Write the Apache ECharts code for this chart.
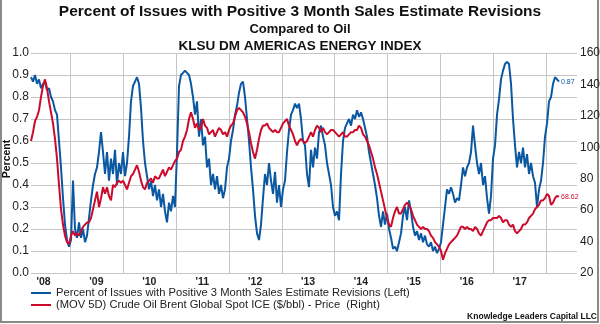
<!DOCTYPE html>
<html>
<head>
<meta charset="utf-8">
<script src="https://cdn.jsdelivr.net/npm/echarts@6/dist/echarts.min.js"></script>
<style>
  html, body { margin: 0; padding: 0; background: #fff; }
  #chart { width: 600px; height: 324px; }
</style>
</head>
<body>
<div id="chart"></div>
<script>
// Sampling of both series: one reading every stepDays, starting at seriesStart
const seriesStart = '2008-04-05';
const stepDays = 13.81;

// Visible date range of the chart
const axisStart = '2008-04-05';
const axisEnd = '2018-08-01';

// Year boundaries get a gridline; year labels sit mid-year
const gridYears = [2009, 2010, 2011, 2012, 2013, 2014, 2015, 2016, 2017, 2018];
const labelYears = [2008, 2009, 2010, 2011, 2012, 2013, 2014, 2015, 2016, 2017];

// Percent of issues with positive 3 month sales estimate revisions (left axis)
const percentPositive = [
  0.89,0.87,0.90,0.86,0.88,0.84,0.86,0.87,0.83,0.84,
  0.80,0.78,0.74,0.72,0.60,0.48,0.34,0.22,0.15,0.12,
  0.15,0.42,0.20,0.16,0.23,0.16,0.20,0.14,0.17,0.25,
  0.33,0.40,0.45,0.48,0.55,0.64,0.55,0.45,0.55,0.42,
  0.52,0.45,0.56,0.40,0.50,0.45,0.55,0.44,0.50,0.62,
  0.78,0.85,0.87,0.89,0.86,0.75,0.60,0.50,0.44,0.38,
  0.42,0.35,0.40,0.33,0.38,0.30,0.36,0.28,0.23,0.32,
  0.28,0.35,0.30,0.55,0.85,0.90,0.91,0.92,0.91,0.90,
  0.86,0.80,0.72,0.78,0.62,0.70,0.58,0.62,0.48,0.52,
  0.40,0.45,0.38,0.44,0.36,0.40,0.34,0.38,0.48,0.52,
  0.60,0.65,0.72,0.76,0.82,0.86,0.87,0.80,0.70,0.60,
  0.48,0.38,0.26,0.18,0.15,0.22,0.34,0.45,0.40,0.50,
  0.42,0.36,0.46,0.32,0.40,0.30,0.38,0.42,0.55,0.65,
  0.72,0.74,0.77,0.75,0.77,0.70,0.60,0.58,0.45,0.39,
  0.56,0.48,0.57,0.52,0.64,0.67,0.62,0.58,0.50,0.45,
  0.40,0.30,0.26,0.28,0.24,0.45,0.60,0.66,0.68,0.70,
  0.67,0.72,0.70,0.74,0.71,0.73,0.70,0.66,0.62,0.55,
  0.50,0.45,0.40,0.34,0.26,0.21,0.28,0.22,0.27,0.20,
  0.16,0.11,0.12,0.10,0.14,0.18,0.26,0.30,0.24,0.33,
  0.28,0.21,0.17,0.19,0.15,0.18,0.14,0.17,0.13,0.12,
  0.14,0.10,0.12,0.09,0.11,0.14,0.22,0.30,0.38,0.36,
  0.39,0.36,0.32,0.34,0.33,0.40,0.48,0.44,0.48,0.50,
  0.55,0.67,0.58,0.50,0.45,0.50,0.40,0.44,0.34,0.27,
  0.35,0.52,0.58,0.72,0.79,0.88,0.92,0.95,0.96,0.95,
  0.86,0.70,0.58,0.48,0.55,0.50,0.57,0.48,0.54,0.45,
  0.50,0.44,0.41,0.30,0.38,0.42,0.50,0.62,0.68,0.78,
  0.80,0.86,0.89,0.88,0.87
];

// (MOV 5D) Crude Oil Brent Global Spot ICE, $/bbl (right axis)
const brentPrice = [
  104.0,109.6,116.6,119.4,123.6,132.0,139.0,143.2,137.6,129.2,
  122.2,115.2,105.4,92.8,76.0,60.6,50.8,43.8,39.6,38.2,
  43.8,46.6,43.8,45.2,43.8,46.6,49.4,50.8,52.2,52.2,
  55.0,60.6,66.2,71.8,62.0,67.6,74.6,70.4,74.6,69.0,
  66.2,76.0,74.6,77.4,78.8,77.4,78.8,76.0,73.2,77.4,
  81.6,83.0,85.8,88.6,84.4,78.8,74.6,73.2,77.4,78.8,
  80.2,77.4,81.6,80.2,80.2,83.0,85.8,81.6,84.4,87.2,
  85.8,88.6,91.4,92.8,97.0,98.4,104.0,106.8,111.0,118.0,
  122.2,118.0,112.4,115.2,111.0,112.4,118.0,113.8,112.4,108.2,
  109.6,111.0,106.8,109.6,112.4,111.0,108.2,109.6,106.8,111.0,
  113.8,115.2,119.4,123.6,125.0,123.6,122.2,119.4,115.2,109.6,
  102.6,97.0,92.8,98.4,105.4,111.0,113.8,113.8,115.2,112.4,
  111.0,109.6,111.0,109.6,109.6,112.4,115.2,116.6,118.0,113.8,
  111.0,108.2,104.0,101.2,104.0,105.4,104.0,102.6,104.0,106.8,
  109.6,106.8,111.0,113.8,112.4,109.6,112.4,109.6,108.2,109.6,
  111.0,111.0,109.6,108.2,106.8,108.2,109.6,106.8,106.8,108.2,
  109.6,109.6,111.0,111.0,113.8,112.4,108.2,106.8,104.0,101.2,
  97.0,92.8,87.2,83.0,77.4,71.8,66.2,60.6,55.0,50.8,
  49.4,55.0,59.2,62.0,57.8,57.8,60.6,63.4,64.8,63.4,
  60.6,56.4,53.6,50.8,49.4,48.0,49.4,48.0,48.0,46.6,
  43.8,42.4,39.6,38.2,36.8,34.0,28.4,32.6,35.4,38.2,
  39.6,41.0,42.4,43.8,46.6,49.4,49.4,48.0,49.4,48.0,
  48.0,46.6,49.4,48.0,45.2,43.8,46.6,49.4,52.2,53.6,
  53.6,55.0,55.0,55.0,56.4,55.0,52.2,53.6,53.6,50.8,
  49.4,50.8,46.6,45.2,46.6,48.0,50.8,50.8,52.2,55.0,
  56.4,57.8,60.6,62.0,63.4,66.2,66.2,67.6,70.4,69.0,
  63.4,64.8,67.6,69.0,68.62
];

const seriesNames = [
  'Percent of Issues with Positive 3 Month Sales Estimate Revisions (Left)',
  '(MOV 5D) Crude Oil Brent Global Spot ICE ($/bbl) - Price  (Right)'
];

const FONT = '"Liberation Sans", Arial, sans-serif';
const BLUE = '#0b58a2';
const RED = '#cc0a2c';
const GRID = '#c6c6c6';

const DAY = 86400000;
const t0 = Date.parse(seriesStart + 'T00:00:00Z');
const toPairs = vals => vals.map((v, i) => [t0 + Math.round(i * stepDays * DAY), v]);
const jan1 = y => Date.UTC(y, 0, 1);
const jul1 = y => Date.UTC(y, 6, 1);

const chart = echarts.init(document.getElementById('chart'), null, { renderer: 'canvas' });

chart.setOption({
  animation: false,
  backgroundColor: '#fff',
  textStyle: { fontFamily: FONT },
  grid: { left: 31, top: 53, width: 546, height: 220, containLabel: false, outerBoundsMode: 'none' },
  legend: {
    orient: 'vertical',
    left: 31,
    top: 287,
    itemGap: 0,
    itemWidth: 20,
    itemHeight: 2,
    icon: 'rect',
    padding: 0,
    textStyle: { fontSize: 11.2, color: '#222', lineHeight: 12, fontFamily: FONT },
    data: seriesNames
  },
  xAxis: {
    // time as epoch milliseconds on a plain numeric scale
    type: 'value',
    min: Date.parse(axisStart + 'T00:00:00Z'),
    max: Date.parse(axisEnd + 'T00:00:00Z'),
    axisLine: { show: false },
    axisTick: { show: false, customValues: gridYears.map(jan1) },
    splitLine: { show: true, lineStyle: { color: GRID, width: 1 } },
    axisLabel: {
      customValues: labelYears.map(jul1),
      formatter: v => "'" + String(new Date(v).getUTCFullYear()).slice(2),
      fontSize: 10.5,
      fontWeight: 'bold',
      color: '#222',
      margin: 4,
      fontFamily: FONT
    }
  },
  yAxis: [
    {
      type: 'value',
      min: 0, max: 1, interval: 0.1,
      name: 'Percent',
      nameLocation: 'middle',
      nameRotate: 90,
      nameGap: 18,
      nameMoveOverlap: false,
      nameTextStyle: { fontSize: 10.5, fontWeight: 'bold', color: '#111', fontFamily: FONT, padding: [0, 0, 0, 8] },
      axisLine: { show: false },
      axisTick: { show: false },
      splitLine: { show: true, lineStyle: { color: GRID, width: 1 } },
      axisLabel: { formatter: v => v.toFixed(1), fontSize: 12, color: '#222', margin: 2, fontFamily: FONT }
    },
    {
      type: 'value',
      position: 'right',
      min: 20, max: 160, interval: 20,
      axisLine: { show: false },
      axisTick: { show: false },
      splitLine: { show: false },
      axisLabel: { fontSize: 12, color: '#222', margin: 3, fontFamily: FONT }
    }
  ],
  series: [
    {
      name: seriesNames[0],
      type: 'line',
      yAxisIndex: 0,
      data: toPairs(percentPositive),
      showSymbol: false,
      color: BLUE,
      lineStyle: { color: BLUE, width: 2 },
      endLabel: {
        show: true,
        formatter: p => p.value[1].toFixed(2),
        fontSize: 7, color: BLUE, distance: 2, fontFamily: FONT
      }
    },
    {
      name: seriesNames[1],
      type: 'line',
      yAxisIndex: 1,
      data: toPairs(brentPrice),
      showSymbol: false,
      color: RED,
      lineStyle: { color: RED, width: 2 },
      endLabel: {
        show: true,
        formatter: p => p.value[1].toFixed(2),
        fontSize: 7, color: RED, distance: 2, fontFamily: FONT
      }
    }
  ],
  graphic: [
    {
      type: 'text', left: 'center', top: 4,
      style: { text: 'Percent of Issues with Positive 3 Month Sales Estimate Revisions',
        fontSize: 15.5, fontWeight: 'bold', fill: '#111', fontFamily: FONT }
    },
    {
      type: 'text', left: 'center', top: 23,
      style: { text: 'Compared to Oil', fontSize: 13, fontWeight: 'bold', fill: '#111', fontFamily: FONT }
    },
    {
      type: 'text', left: 'center', top: 39,
      style: { text: 'KLSU DM AMERICAS ENERGY INDEX', fontSize: 13.5, fontWeight: 'bold', fill: '#111', fontFamily: FONT }
    },
    {
      type: 'text', right: 3, top: 312,
      style: { text: 'Knowledge Leaders Capital LLC', fontSize: 8.5, fontWeight: 'bold', fill: '#111', fontFamily: FONT }
    },
    {
      type: 'polyline',
      shape: { points: [[1, 0], [1, 322], [598, 322], [598, 0]] },
      style: { stroke: '#8a8a8a', lineWidth: 2, fill: null }
    }
  ]
});
</script>
</body>
</html>
